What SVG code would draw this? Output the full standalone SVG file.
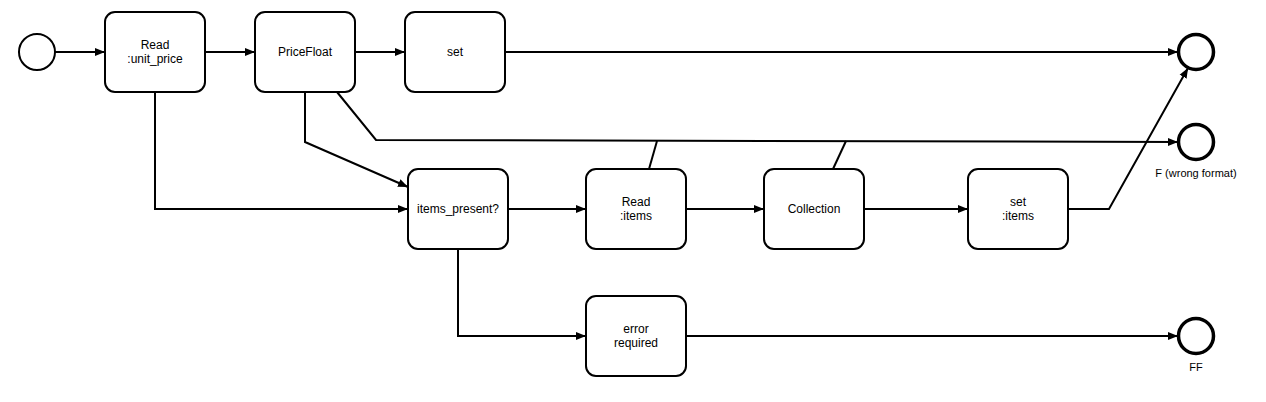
<svg xmlns="http://www.w3.org/2000/svg" width="1266" height="402" viewBox="0 0 1266 402">
<defs>
<marker id="arr" viewBox="0 0 10 10" refX="10" refY="5" markerWidth="10" markerHeight="10" markerUnits="userSpaceOnUse" orient="auto">
<path d="M0,1 L10,5 L0,9 Z" fill="#000"/>
</marker>
<style>
.n rect{fill:#fff;stroke:#000;stroke-width:2}
.t{font-family:"Liberation Sans",Arial,sans-serif;font-size:12px;fill:#000;text-anchor:middle}
.s{font-family:"Liberation Sans",Arial,sans-serif;font-size:11px;fill:#000;text-anchor:middle}
.c path,.c polyline,.c line{fill:none;stroke:#000;stroke-width:2}
.a{marker-end:url(#arr)}
.ev{fill:#fff;stroke:#000}
</style>
</defs>
<rect width="1266" height="402" fill="#fff"/>
<g class="c">
<line class="a" x1="55" y1="52" x2="105" y2="52"/>
<line class="a" x1="205" y1="52" x2="255" y2="52"/>
<line class="a" x1="355" y1="52" x2="405" y2="52"/>
<line class="a" x1="505" y1="52" x2="1178" y2="52"/>
<polyline class="a" points="155,92 155,209 408,209"/>
<polyline class="a" points="305,92 305,142 408,187"/>
<polyline class="a" points="337,92 376,140 1178,142"/>
<polyline points="649,169 657,141"/>
<polyline points="833,169 846,141"/>
<line class="a" x1="508" y1="209" x2="586" y2="209"/>
<line class="a" x1="686" y1="209" x2="764" y2="209"/>
<line class="a" x1="864" y1="209" x2="968" y2="209"/>
<polyline class="a" points="1068,209 1109,209 1188,68"/>
<polyline class="a" points="458,249 458,336 586,336"/>
<line class="a" x1="686" y1="336" x2="1178" y2="336"/>
</g>
<g id="start"><circle class="ev" cx="37" cy="52" r="18" stroke-width="2"/></g>
<g id="read_unit_price" class="n"><rect x="105" y="12" width="100" height="80" rx="10"/><text class="t" x="155" y="49">Read</text><text class="t" x="155" y="63">:unit_price</text></g>
<g id="pricefloat" class="n"><rect x="255" y="12" width="100" height="80" rx="10"/><text class="t" x="305" y="56">PriceFloat</text></g>
<g id="set" class="n"><rect x="405" y="12" width="100" height="80" rx="10"/><text class="t" x="455" y="56">set</text></g>
<g id="items_present" class="n"><rect x="408" y="169" width="100" height="80" rx="10"/><text class="t" x="458" y="213">items_present?</text></g>
<g id="read_items" class="n"><rect x="586" y="169" width="100" height="80" rx="10"/><text class="t" x="636" y="206">Read</text><text class="t" x="636" y="220">:items</text></g>
<g id="collection" class="n"><rect x="764" y="169" width="100" height="80" rx="10"/><text class="t" x="814" y="213">Collection</text></g>
<g id="set_items" class="n"><rect x="968" y="169" width="100" height="80" rx="10"/><text class="t" x="1018" y="206">set</text><text class="t" x="1018" y="220">:items</text></g>
<g id="error_required" class="n"><rect x="586" y="296" width="100" height="80" rx="10"/><text class="t" x="636" y="333">error</text><text class="t" x="636" y="347">required</text></g>
<g id="end"><circle class="ev" cx="1196" cy="52" r="17.5" stroke-width="3.5"/></g>
<g id="end_f"><circle class="ev" cx="1196" cy="142" r="17.5" stroke-width="3.5"/><text class="s" x="1196" y="177">F (wrong format)</text></g>
<g id="end_ff"><circle class="ev" cx="1196" cy="336" r="17.5" stroke-width="3.5"/><text class="s" x="1196" y="371">FF</text></g>
</svg>
